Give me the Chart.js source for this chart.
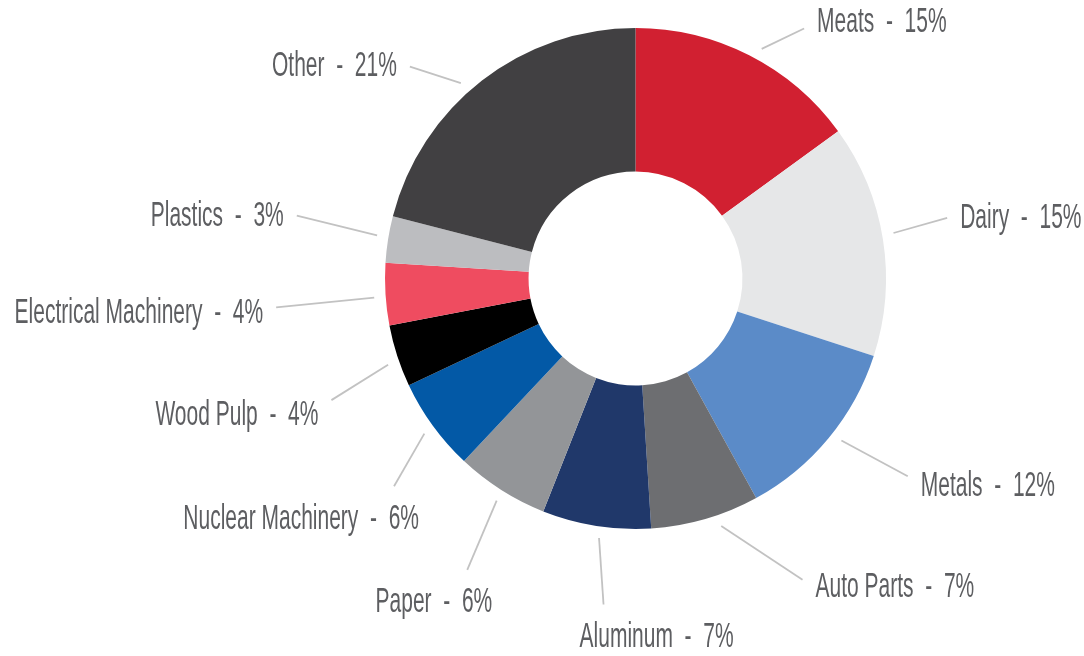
<!DOCTYPE html>
<html lang="en">
<head>
    <meta charset="UTF-8">
    <title>Exports</title>
    <script src="https://cdn.jsdelivr.net/npm/chart.js"></script>
    <style>
        html, body { margin: 0; padding: 0; background: #fff; }
        #wrap { width: 1084px; height: 656px; }
    </style>
</head>
<body>
    <div id="wrap"><canvas id="donutChart" width="1084" height="656"></canvas></div>

    <script>
        // data
        const categories = ['Meats', 'Dairy', 'Metals', 'Auto Parts', 'Aluminum', 'Paper',
            'Nuclear Machinery', 'Wood Pulp', 'Electrical Machinery', 'Plastics', 'Other'];
        const shares = [15, 15, 12, 7, 7, 6, 6, 4, 4, 3, 21];
        const sliceColors = ['#d12031', '#e6e7e8', '#5b8bc8', '#6d6e71', '#20386a', '#939598',
            '#0359a6', '#000000', '#ef4c60', '#bcbdc0', '#414042'];

        // leader line layout per label:
        // [extra radius past the ring, end angle shift (deg), text dy, start angle shift (deg)]
        const leaders = [
            [51, 7, -9, 1.8], [67, -2, -2, -1], [86, -3.6, 7, -1.4], [94, -12.8, 5, -2.9],
            [77, -3.4, 0, -1], [86, -2.4, 0, -0.4], [68, -4.7, 0, -0.3], [77, -3.8, 12, -1.2],
            [110, -1, 3, -0.6], [94, 1.5, -2, 0.5], [59, -9, -3, -4]
        ];

        const outsideLabels = {
            id: 'outsideLabels',
            afterDraw(chart) {
                const ctx = chart.ctx;
                const arcs = chart.getDatasetMeta(0).data;
                const rad = Math.PI / 180;
                ctx.save();
                arcs.forEach(function (arc, i) {
                    const mid = (arc.startAngle + arc.endAngle) / 2;
                    const r = arc.outerRadius;
                    const l = leaders[i];
                    const sa = mid + l[3] * rad;
                    const sx = arc.x + Math.cos(sa) * (r + 11.5);
                    const sy = arc.y + Math.sin(sa) * (r + 11.5);
                    const ea = mid + l[1] * rad;
                    const ex = arc.x + Math.cos(ea) * (r + l[0]);
                    const ey = arc.y + Math.sin(ea) * (r + l[0]);

                    ctx.strokeStyle = '#c2c2c2';
                    ctx.lineWidth = 1.8;
                    ctx.beginPath();
                    ctx.moveTo(sx, sy);
                    ctx.lineTo(ex, ey);
                    ctx.stroke();

                    // angle from 12 o'clock, clockwise
                    let deg = (ea / rad + 90) % 360;
                    if (deg < 0) deg += 360;
                    let tx, ty, align;
                    if (deg > 170 && deg < 240) {
                        // labels under the ring hang below the line end
                        ty = ey + 30;
                        if (deg < 195) { tx = ex - 24; align = 'left'; }
                        else { tx = ex + 25; align = 'right'; }
                    } else {
                        ty = ey + l[2];
                        if (deg < 180) { tx = ex + 13; align = 'left'; }
                        else { tx = ex - 13; align = 'right'; }
                    }
                    ctx.save();
                    ctx.translate(tx, ty + 12.5);
                    ctx.scale(0.6, 1);
                    ctx.font = '35px "Liberation Sans", Arial, sans-serif';
                    ctx.fillStyle = '#5d5e61';
                    ctx.textAlign = align;
                    ctx.textBaseline = 'alphabetic';
                    ctx.fillText(categories[i] + '  -  ' + shares[i] + '%', 0, 0);
                    ctx.restore();
                });
                ctx.restore();
            }
        };

        const donutChart = new Chart(document.getElementById('donutChart'), {
            type: 'doughnut',
            data: {
                labels: categories,
                datasets: [{
                    data: shares,
                    backgroundColor: sliceColors,
                    borderWidth: 0
                }]
            },
            options: {
                responsive: false,
                animation: false,
                cutout: '42.7%',
                layout: { padding: { top: 28, left: 385, right: 198, bottom: 127 } },
                plugins: {
                    legend: { display: false },
                    tooltip: { enabled: false }
                }
            },
            plugins: [outsideLabels]
        });
    </script>
</body>
</html>
